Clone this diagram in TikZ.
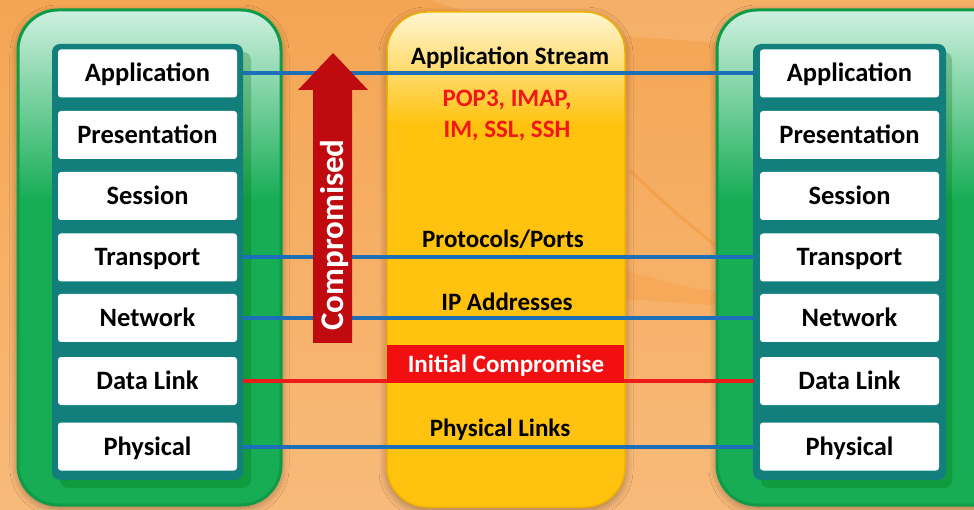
\documentclass[tikz,border=0pt]{standalone}
\usepackage{fontspec}
\setmainfont{Carlito}
\usetikzlibrary{shadows.blur}

\definecolor{bgtop}{HTML}{F4A553}
\definecolor{bgbot}{HTML}{F8BA7A}
\definecolor{panelgreen}{HTML}{16AD55}
\definecolor{paneledge}{HTML}{0E9B48}
\definecolor{mint}{HTML}{CFF0E0}
\definecolor{stackteal}{HTML}{127F7D}
\definecolor{gold}{HTML}{FFC20E}
\definecolor{goldedge}{HTML}{F2B000}
\definecolor{cream}{HTML}{FFF6D2}
\definecolor{linkblue}{HTML}{1D6FB8}
\definecolor{linkred}{HTML}{EE1B1B}
\definecolor{barred}{HTML}{F20F12}
\definecolor{arrowred}{HTML}{BF0A10}
\definecolor{protored}{HTML}{F01818}

\begin{document}
\begin{tikzpicture}[x=1pt,y=-1pt,
  layer/.style={fill=white, rounded corners=3pt, minimum width=179pt,
    minimum height=48pt, inner sep=0pt, outer sep=6pt,
    font=\bfseries\fontsize{26.5}{26.5}\selectfont, text height=17pt, text depth=0pt},
  midlabel/.style={inner sep=0pt, font=\bfseries\fontsize{25}{25}\selectfont,
    text height=16pt, text depth=0pt},
  protolabel/.style={midlabel, text=protored},
  link/.style={draw=linkblue, line width=4pt},
  badlink/.style={draw=linkred, line width=4pt},
  panelshadow/.style={blur shadow={shadow xshift=0pt, shadow yshift=-3pt,
    shadow blur steps=10, shadow blur radius=8pt, shadow opacity=35}},
]
\useasboundingbox (0,0) rectangle (974,510);
\clip (0,0) rectangle (974,510);

% backdrop
\shade[top color=bgtop, bottom color=bgbot] (0,0) rectangle (974,510);
\fill[white, opacity=.12] (430,0) .. controls (600,60) and (800,20) .. (974,90)
  -- (974,0) -- cycle;
\draw[orange!80!brown, opacity=.25, line width=3pt] (630,170) .. controls (660,200) and (690,225) .. (715,245);
\fill[orange, opacity=.15] (625,270) .. controls (660,280) and (690,290) .. (717,290)
  -- (717,305) .. controls (690,305) and (660,300) .. (625,300) -- cycle;

% left stack panel
\path[panelshadow, fill=panelgreen, rounded corners=40pt] (18,10) rectangle (281,505);
\begin{scope}
  \clip[rounded corners=40pt] (18,10) rectangle (281,505);
  \shade[top color=mint, bottom color=panelgreen] (18,10) rectangle (281,200);
\end{scope}
\draw[paneledge, line width=3pt, rounded corners=40pt] (18,10) rectangle (281,505);

% right stack panel
\path[panelshadow, fill=panelgreen, rounded corners=40pt] (717,10) rectangle (1020,505);
\begin{scope}
  \clip[rounded corners=40pt] (717,10) rectangle (1020,505);
  \shade[top color=mint, bottom color=panelgreen] (717,10) rectangle (1020,200);
\end{scope}
\draw[paneledge, line width=3pt, rounded corners=40pt] (717,10) rectangle (1020,505);

% middle stream panel
\path[panelshadow, fill=gold, rounded corners=40pt] (387,12) rectangle (625,507);
\begin{scope}
  \clip[rounded corners=40pt] (387,12) rectangle (625,507);
  \shade[top color=cream, bottom color=gold] (387,12) rectangle (625,125);
\end{scope}
\draw[goldedge, line width=1.5pt, rounded corners=40pt] (387,12) rectangle (625,507);

% teal backing of both layer stacks
\fill[black!60!green, opacity=.25, rounded corners=8pt] (60,52) rectangle (251,488);
\fill[stackteal, rounded corners=8pt] (52,44) rectangle (243,480);
\fill[black!60!green, opacity=.25, rounded corners=8pt] (761,52) rectangle (952,488);
\fill[stackteal, rounded corners=8pt] (753,44) rectangle (946,480);

% the seven layers on each side
\foreach \id/\txt/\yy in {app/Application/73.5, pre/Presentation/135, ses/Session/196,
    tra/Transport/257.5, net/Network/318, dl/Data Link/381, phy/Physical/446.5} {
  \node[layer] (L\id) at (147.5,\yy) {\txt};
  \node[layer] (R\id) at (849.5,\yy) {\txt};
}

% peer links
\draw[link] (Lapp) -- (Rapp);
\draw[link] (Ltra) -- (Rtra);
\draw[link] (Lnet) -- (Rnet);
\draw[badlink] (Ldl) -- (Rdl);
\draw[link] (Lphy) -- (Rphy);

% labels in the stream panel
\node[midlabel] (stream) at (510,57) {Application Stream};
\node[protolabel] (proto1) at (507,99) {POP3, IMAP,};
\node[protolabel] (proto2) at (507,129.5) {IM, SSL, SSH};
\node[midlabel] (ports) at (503,239.5) {Protocols/Ports};
\node[midlabel] (ipaddr) at (507,303) {IP Addresses};
\node[fill=barred, minimum width=237pt, minimum height=38pt, inner sep=0pt] (initbar) at (505.5,364) {};
\node[midlabel, text=white] (initial) at (506,365) {Initial Compromise};
\node[midlabel] (phylinks) at (500,428) {Physical Links};

% upward compromise arrow
\fill[arrowred] (313,343) -- (313,90) -- (298,90) -- (333,53) -- (368,90)
  -- (352,90) -- (352,343) -- cycle;
\node[rotate=90, inner sep=0pt, text=white, font=\bfseries\fontsize{33}{33}\selectfont,
  text height=21pt, text depth=0pt] (comp) at (333,235) {Compromised};
\end{tikzpicture}
\end{document}
